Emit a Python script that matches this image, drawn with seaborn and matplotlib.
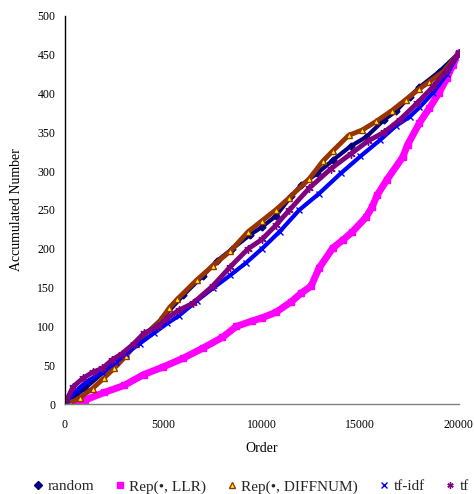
import matplotlib
matplotlib.use("Agg")
import matplotlib.pyplot as plt
import seaborn as sns
import pandas as pd
from matplotlib.lines import Line2D

sns.set_theme(style="white")
plt.rcParams['font.family'] = ['Liberation Serif', 'DejaVu Serif']

# values (order, accumulated number)
random_x = [0, 500, 1000, 2000, 3000, 4000, 5000, 6000, 7000, 7700, 8500, 9400, 10000,
            10700, 11500, 12000, 12800, 13600, 14500, 15300, 16200, 16800, 17500, 18000,
            19000, 20000]
random_y = [0, 10, 20, 42, 65, 88, 112, 140, 165, 184, 200, 218, 228,
            242, 268, 282, 297, 314, 332, 344, 366, 377, 396, 408,
            428, 452]

llr_x = [0, 500, 1000, 2000, 3000, 4000, 5000, 6000, 7000, 8000, 8700, 9500, 10000,
         10700, 11500, 12000, 12500, 12900, 13600, 14100, 14600, 15300, 15600, 15850,
         16350, 17150, 17400, 18000, 18500, 19000, 19400, 19700, 20000]
llr_y = [0, 2, 5, 15, 24, 38, 48, 59, 72, 86, 100, 107, 111,
         118, 132, 143, 152, 175, 201, 211, 222, 241, 254, 269,
         289, 318, 334, 362, 381, 401, 420, 437, 452]

diff_x = [0, 250, 750, 1400, 2000, 2500, 3100, 3600, 4150, 4800, 5300, 5700, 6700,
          7500, 8400, 9300, 10000, 10700, 11400, 12400, 13100, 13600, 14400, 15100,
          15800, 16600, 17300, 18000, 18500, 19200, 20000]
diff_y = [0, 1, 8, 20, 34, 46, 62, 77, 91, 106, 124, 135, 160,
          178, 197, 222, 236, 250, 266, 290, 313, 326, 346, 353,
          364, 378, 392, 406, 415, 428, 452]

tfidf_x = [0, 100, 600, 1100, 1900, 2600, 3100, 3800, 4500, 5200, 5800, 6700, 7500,
           8400, 9200, 10000, 10900, 11900, 12900, 14000, 15000, 16000, 16800, 17500,
           18000, 18700, 19400, 20000]
tfidf_y = [0, 5, 18, 29, 41, 54, 65, 78, 91, 104, 114, 133, 149,
           166, 182, 200, 222, 250, 271, 297, 319, 340, 358, 370,
           382, 401, 425, 452]

tf_x = [0, 400, 900, 1400, 1900, 2400, 2900, 3500, 4000, 4700, 5200, 5800, 6500,
        7500, 8400, 9300, 10000, 10700, 11400, 12400, 13500, 14500, 15400, 16200,
        17000, 17900, 18700, 19400, 20000]
tf_y = [0, 22, 33, 41, 46, 57, 65, 78, 91, 100, 111, 121, 130,
        152, 177, 200, 212, 230, 250, 278, 303, 322, 339, 350,
        366, 388, 409, 430, 452]

series = [
    ("random", random_x, random_y, dict(color="#000080", lw=3.0, marker="D", ms=3.5,
                                        mfc="#000080", mec="#000080")),
    ("Rep(•, LLR)", llr_x, llr_y, dict(color="#FF00FF", lw=5.0, marker="s", ms=5,
                                       mfc="#FF00FF", mec="#FF00FF")),
    ("Rep(•, DIFFNUM)", diff_x, diff_y, dict(color="#993300", lw=3.5, marker="^", ms=5,
                                             mfc="#FFFF00", mec="#993300")),
    ("tf-idf", tfidf_x, tfidf_y, dict(color="#0000FF", lw=3.0, marker="x", ms=5,
                                      mfc="#0000FF", mec="#0000FF")),
    ("tf", tf_x, tf_y, dict(color="#800080", lw=3.5, marker=(6, 2, 0), ms=6,
                            mfc="#800080", mec="#800080")),
]

fig = plt.figure(figsize=(4.74, 4.94), dpi=100)
ax = fig.add_axes([0.137, 0.182, 0.831, 0.786])

handles = []
for name, xs, ys, st in series:
    df = pd.DataFrame({"Order": xs, "Accumulated Number": ys})
    sns.lineplot(data=df, x="Order", y="Accumulated Number", ax=ax,
                 color=st["color"], linewidth=st["lw"], marker=st["marker"],
                 markersize=st["ms"], markerfacecolor=st["mfc"],
                 markeredgecolor=st["mec"], markeredgewidth=1.0)
    handles.append(Line2D([], [], linestyle="none", marker=st["marker"],
                          markersize=4.5, markerfacecolor=st["mfc"],
                          markeredgecolor=st["mec"], markeredgewidth=1.0,
                          label=name))

ax.set_xlim(0, 20000)
ax.set_ylim(0, 500)
ax.set_xticks([0, 5000, 10000, 15000, 20000])
ax.set_yticks(range(0, 501, 50))
ax.tick_params(axis="both", direction="in", length=4, width=1, color="black",
               labelsize=8.5, labelcolor="black")
ax.tick_params(axis="x", pad=11)
ax.tick_params(axis="y", pad=7)
for side in ["top", "right"]:
    ax.spines[side].set_visible(False)
ax.spines["left"].set_color("black")
ax.spines["bottom"].set_color("#808080")
ax.spines["left"].set_linewidth(1)
ax.spines["bottom"].set_linewidth(1)
ax.grid(False)

ax.set_xlabel("Order", fontsize=10, color="black", labelpad=8)
ax.set_ylabel("Accumulated Number", fontsize=10, color="black", labelpad=10)

fig.legend(handles=handles, loc="center", bbox_to_anchor=(0.527, 0.015), ncol=5,
           frameon=False, fontsize=11, handletextpad=0.1, columnspacing=1.2,
           handlelength=1.0)

fig.savefig("out.png", dpi=100)
